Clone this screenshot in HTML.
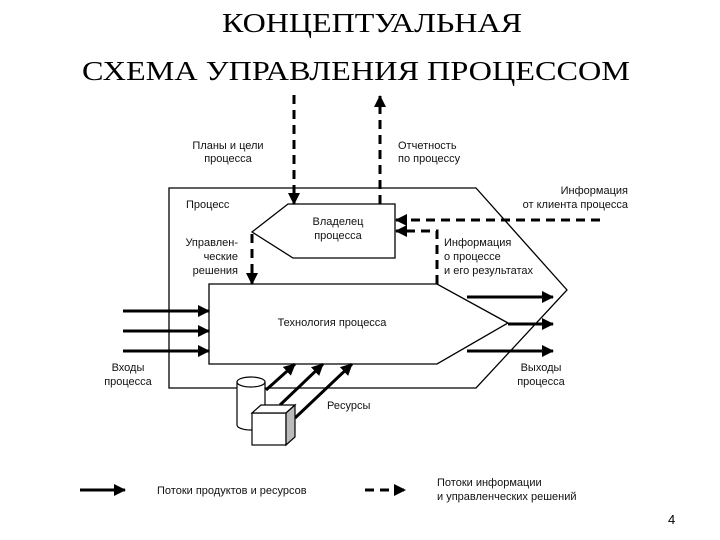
<!DOCTYPE html>
<html><head><meta charset="utf-8"><style>
body{margin:0;background:#fff;width:720px;height:540px;overflow:hidden}
svg{display:block}
.t{font-family:"Liberation Sans",sans-serif;font-size:11px;fill:#111}
.h{font-family:"Liberation Serif",serif;font-size:27px;fill:#000}
</style></head><body>
<svg width="720" height="540" viewBox="0 0 720 540" xmlns="http://www.w3.org/2000/svg">
<defs>
<marker id="b" markerWidth="12" markerHeight="12" refX="11" refY="6" orient="auto" markerUnits="userSpaceOnUse"><path d="M0,0 L12,6 L0,12z" fill="#000"/></marker>
</defs>
<text class="h" x="222" y="32" textLength="300" lengthAdjust="spacingAndGlyphs">КОНЦЕПТУАЛЬНАЯ</text>
<text class="h" x="82" y="80" textLength="548" lengthAdjust="spacingAndGlyphs">СХЕМА УПРАВЛЕНИЯ ПРОЦЕССОМ</text>
<g fill="none" stroke="#000" stroke-width="1.3">
<path d="M169,188 H476 L567,290 L476,388 H169 Z"/>
<path d="M252,232 L288,204 H395 V258 H293 Z"/>
<path d="M209,284 H437 L508,323 L437,364 H209 Z"/>
</g>
<g stroke="#000" stroke-width="3" fill="none">
<line x1="123" y1="311" x2="209" y2="311" marker-end="url(#b)"/>
<line x1="123" y1="331" x2="209" y2="331" marker-end="url(#b)"/>
<line x1="123" y1="351" x2="209" y2="351" marker-end="url(#b)"/>
<line x1="467" y1="297" x2="553" y2="297" marker-end="url(#b)"/>
<line x1="508" y1="324" x2="553" y2="324" marker-end="url(#b)"/>
<line x1="467" y1="351" x2="553" y2="351" marker-end="url(#b)"/>
<line x1="266" y1="390" x2="295" y2="364" marker-end="url(#b)"/>
<line x1="280" y1="405" x2="323" y2="364" marker-end="url(#b)"/>
<line x1="295" y1="418" x2="352" y2="364" marker-end="url(#b)"/>
<line x1="80" y1="490" x2="125" y2="490" marker-end="url(#b)"/>
</g>
<g stroke="#000" stroke-width="3" fill="none" stroke-dasharray="9,6">
<line x1="294" y1="95" x2="294" y2="204" marker-end="url(#b)"/>
<line x1="380" y1="204" x2="380" y2="96" marker-end="url(#b)"/>
<line x1="600" y1="220" x2="396" y2="220" marker-end="url(#b)"/>
<polyline points="437,284 437,231 396,231" marker-end="url(#b)"/>
<line x1="252" y1="234" x2="252" y2="284" marker-end="url(#b)"/>
<line x1="365" y1="490" x2="405" y2="490" marker-end="url(#b)"/>
</g>
<g fill="#fff" stroke="#000" stroke-width="1.2">
<path d="M237,382 V425 A14,5 0 0 0 265,425 V382"/>
<ellipse cx="251" cy="382" rx="14" ry="5"/>
<rect x="252" y="413" width="34" height="32"/>
<path d="M252,413 L261,405 H295 L286,413 Z"/>
<path d="M286,413 L295,405 V437 L286,445 Z" fill="#bbb"/>
</g>
<g class="t">
<text x="228" y="149" text-anchor="middle">Планы и цели</text>
<text x="228" y="162" text-anchor="middle">процесса</text>
<text x="398" y="149">Отчетность</text>
<text x="398" y="162">по процессу</text>
<text x="186" y="208">Процесс</text>
<text x="338" y="225" text-anchor="middle">Владелец</text>
<text x="338" y="239" text-anchor="middle">процесса</text>
<text x="238" y="246" text-anchor="end">Управлен-</text>
<text x="238" y="260" text-anchor="end">ческие</text>
<text x="238" y="274" text-anchor="end">решения</text>
<text x="444" y="246">Информация</text>
<text x="444" y="260">о процессе</text>
<text x="444" y="274">и его результатах</text>
<text x="628" y="194" text-anchor="end">Информация</text>
<text x="628" y="208" text-anchor="end">от клиента процесса</text>
<text x="332" y="326" text-anchor="middle">Технология процесса</text>
<text x="128" y="371" text-anchor="middle">Входы</text>
<text x="128" y="385" text-anchor="middle">процесса</text>
<text x="541" y="371" text-anchor="middle">Выходы</text>
<text x="541" y="385" text-anchor="middle">процесса</text>
<text x="327" y="409">Ресурсы</text>
<text x="157" y="494">Потоки продуктов и ресурсов</text>
<text x="437" y="486">Потоки информации</text>
<text x="437" y="500">и управленческих решений</text>
</g>
<text x="668" y="524" font-family="Liberation Sans,sans-serif" font-size="13">4</text>
</svg>
</body></html>
